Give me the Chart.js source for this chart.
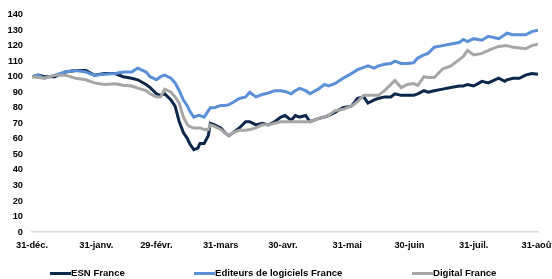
<!DOCTYPE html>
<html>
<head>
<meta charset="utf-8">
<script src="https://cdn.jsdelivr.net/npm/chart.js@4.4.1/dist/chart.umd.min.js"></script>
<style>
  body { margin: 0; background: #fff; }
  #wrap { position: relative; width: 552px; height: 279px; }
  #legend { position: absolute; left: 0; top: 267px; width: 552px; height: 12px; }
  .lg-line { position: absolute; top: 5px; width: 21px; height: 3px; }
  .lg-text { position: absolute; top: 0; font: bold 9.6px "Liberation Sans", Arial, sans-serif; color: #000; line-height: 12px; white-space: nowrap; }
</style>
</head>
<body>
<div id="wrap">
  <canvas id="chart" width="552" height="279"></canvas>
  <div id="legend"></div>
</div>
<script>
"use strict";

// days since 31 dec
var days = [0, 3, 6, 11, 16, 21, 26, 30, 35, 40, 44, 48, 51, 55, 57, 60, 62, 64, 67, 69,
  71, 73, 75, 76, 78, 80, 81, 83, 85, 86, 88, 91, 93, 95, 97, 100, 103, 105, 108, 111,
  114, 117, 120, 122, 125, 127, 129, 132, 134, 138, 141, 143, 146, 150, 154, 157, 160, 162, 165, 167,
  170, 173, 175, 178, 181, 184, 186, 189, 191, 194, 198, 202, 206, 208, 210, 213, 217, 220, 225, 228,
  229, 232, 235, 238, 241, 244];

var esnFrance = [100, 101, 100, 100, 103, 104, 104, 101, 102, 102, 100, 99, 98, 95, 93, 89, 88, 89, 85, 81,
  71, 64, 60, 57, 53, 54, 57, 57, 62, 70, 69, 67, 64, 62, 64, 67, 71, 71, 69, 70,
  69, 71, 74, 75, 72, 75, 74, 75, 71, 73, 74, 75, 77, 80, 81, 86, 87, 83, 85, 86,
  87, 87, 89, 88, 88, 88, 89, 91, 90, 91, 92, 93, 94, 94, 95, 94, 97, 96, 99, 97,
  98, 99, 99, 101, 102, 101.5];

var editeursFrance = [100, 101, 99, 101, 103, 104, 103, 101, 101.5, 102, 103, 103, 105.5, 103, 100, 98, 100, 101, 99, 96,
  91, 85, 81, 78, 74, 75, 75, 74, 78, 80, 80, 81.5, 81.5, 82, 83.5, 86, 87, 90, 87, 88.5,
  89.5, 91, 91, 90.5, 89, 91, 92.5, 91, 89, 92, 95, 94, 95.5, 99, 102, 104.5, 106, 107, 105.5, 107,
  108, 108.5, 110, 108.5, 108.5, 109, 112, 114, 115, 119, 120, 121, 122, 124, 122.6, 124.5, 123.5, 126, 124.5, 127,
  128, 127, 127, 127, 129, 130];

var digitalFrance = [100, 99.5, 99, 101, 101, 99, 98, 96, 95, 95.5, 94.5, 94, 92.6, 91, 89, 87, 87, 92, 90, 87,
  83, 74, 69, 68, 67, 67, 67, 66, 66, 69, 68, 66, 64, 62, 64, 65.5, 65.5, 66, 67, 69,
  69, 70, 71, 71, 71, 71, 71, 71, 71, 73, 74, 75, 78, 79, 81, 84, 88, 88, 88, 88,
  91, 95, 97.6, 93, 95, 95.6, 94.4, 100, 99.5, 99.5, 105, 107, 111, 113, 117, 114, 115, 117, 119.5, 120,
  120, 119, 118.5, 118, 120, 121];

var seriesNames = ["ESN France", "Editeurs de logiciels France", "Digital France"];
var seriesColors = ["#0c2749", "#5b8fd8", "#a6a6a6"];

var tickDays = [0, 31, 60, 91, 121, 152, 182, 213, 244];
var tickLabels = ["31-déc.", "31-janv.", "29-févr.", "31-mars", "30-avr.", "31-mai", "30-juin", "31-juil.", "31-août"];

var yTicks = [0, 10, 20, 30, 40, 50, 60, 70, 80, 90, 100, 110, 120, 130, 140];

function toPoints(values) {
  return days.map(function (d, i) {
    return { x: d, y: values[i] };
  });
}

var allSeries = [esnFrance, editeursFrance, digitalFrance];

var tickFont = { family: "'Liberation Sans', Arial, sans-serif", size: 9.3, weight: "bold" };

new Chart(document.getElementById("chart"), {
  type: "line",
  data: {
    datasets: allSeries.map(function (s, i) {
      return {
        label: seriesNames[i],
        data: toPoints(s),
        borderColor: seriesColors[i],
        backgroundColor: seriesColors[i],
        borderWidth: 3,
        pointRadius: 0,
        tension: 0,
        order: 2 - i,
      };
    }),
  },
  options: {
    responsive: false,
    animation: false,
    layout: { padding: { left: 0, right: 14, top: 14, bottom: 29 } },
    plugins: {
      legend: { display: false },
      tooltip: { enabled: false },
    },
    scales: {
      x: {
        type: "linear",
        min: 0,
        max: 244,
        grid: { display: false, drawTicks: false },
        border: { display: true, color: "#d9d9d9", width: 1.5 },
        ticks: {
          font: tickFont,
          color: "#000",
          padding: 8,
          maxRotation: 0,
          autoSkip: false,
          callback: function (value) {
            var idx = tickDays.indexOf(value);
            return idx >= 0 ? tickLabels[idx] : "";
          },
        },
        afterBuildTicks: function (scale) {
          scale.ticks = tickDays.map(function (d) {
            return { value: d };
          });
        },
        afterFit: function (scale) {
          scale.height = 18;
          scale.paddingLeft = 0;
          scale.paddingRight = 0;
        },
      },
      y: {
        min: 0,
        max: 140,
        grid: { display: false, drawTicks: false },
        border: { display: false },
        ticks: {
          font: tickFont,
          color: "#000",
          padding: 9,
        },
        afterBuildTicks: function (scale) {
          scale.ticks = yTicks.map(function (v) {
            return { value: v };
          });
        },
        afterFit: function (scale) {
          scale.width = 32;
        },
      },
    },
  },
});

// legend
var legendLeft = [50, 194, 412];
var legend = document.getElementById("legend");
seriesNames.forEach(function (name, i) {
  var line = document.createElement("div");
  line.className = "lg-line";
  line.style.left = legendLeft[i] + "px";
  line.style.background = seriesColors[i];
  legend.appendChild(line);

  var txt = document.createElement("span");
  txt.className = "lg-text";
  txt.style.left = legendLeft[i] + 21 + "px";
  txt.textContent = name;
  legend.appendChild(txt);
});
</script>
</body>
</html>
